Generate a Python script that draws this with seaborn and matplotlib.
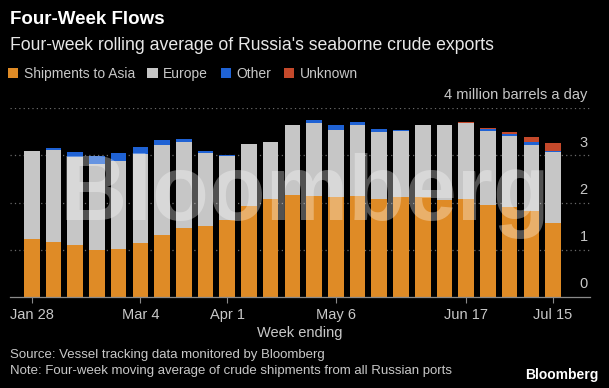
import matplotlib
matplotlib.use("Agg")
import matplotlib.pyplot as plt
import matplotlib.transforms as mtrans
from matplotlib.patches import Patch
import pandas as pd
import seaborn as sns

# ── Data ──────────────────────────────────────────────────────────────────────
weeks = ["Jan 28", "Feb 4", "Feb 11", "Feb 18", "Feb 25", "Mar 4", "Mar 11",
         "Mar 18", "Mar 25", "Apr 1", "Apr 8", "Apr 15", "Apr 22", "Apr 29",
         "May 6", "May 13", "May 20", "May 27", "Jun 3", "Jun 10", "Jun 17",
         "Jun 24", "Jul 1", "Jul 8", "Jul 15"]
asia = [1.23, 1.16, 1.09, 0.99, 1.01, 1.15, 1.31, 1.45, 1.50, 1.64, 1.93, 2.07,
        2.15, 2.13, 2.11, 2.13, 2.07, 2.11, 2.12, 2.06, 2.07, 1.95, 1.90, 1.83, 1.57]
europe = [1.87, 1.96, 1.87, 1.83, 1.87, 1.88, 1.91, 1.84, 1.54, 1.35, 1.31, 1.20,
          1.48, 1.55, 1.42, 1.50, 1.42, 1.40, 1.51, 1.57, 1.62, 1.57, 1.50, 1.38, 1.50]
other = [0.00, 0.03, 0.10, 0.16, 0.17, 0.15, 0.10, 0.06, 0.04, 0.02, 0.00, 0.00,
         0.02, 0.07, 0.10, 0.08, 0.07, 0.02, 0.00, 0.00, 0.00, 0.04, 0.04, 0.06, 0.02]
unknown = [0.00] * 20 + [0.02, 0.02, 0.06, 0.12, 0.17]
tick_weeks = ["Jan 28", "Mar 4", "Apr 1", "May 6", "Jun 17", "Jul 15"]
y_labels = ["0", "1", "2", "3", "4 million barrels a day"]

series = ["Shipments to Asia", "Europe", "Other", "Unknown"]
colors = ["#DF8B26", "#C6C6C6", "#1F62D4", "#C4492B"]

df = pd.DataFrame({"week": weeks, "Shipments to Asia": asia, "Europe": europe,
                   "Other": other, "Unknown": unknown})
cum = df[series].cumsum(axis=1)

# ── Setup ─────────────────────────────────────────────────────────────────────
sns.set_theme(style="white")
plt.rcParams["font.family"] = ["Liberation Sans", "DejaVu Sans"]
BG = "#000000"
fig = plt.figure(figsize=(6.09, 3.88), dpi=100, facecolor=BG)
ax = fig.add_axes([10 / 609, 1 - 297 / 388, 580 / 609, (297 - 108) / 388])
ax.set_facecolor(BG)

# stacked bars: draw cumulative totals from the top layer down
for name, col in reversed(list(zip(series, colors))):
    sns.barplot(x=df["week"], y=cum[name], color=col, saturation=1, width=0.72,
                ax=ax, zorder=3, linewidth=0)

ax.set_xlim(-1.0, 25.7)
ax.set_ylim(0, 4)

# dotted gridlines + right-side labels sitting above them
off = mtrans.offset_copy(ax.transData, fig=fig, x=0, y=4, units="points")
for v, lab in enumerate(y_labels):
    if v > 0:
        ax.axhline(v, color="#6a6a6a", linestyle=(0, (1, 2.5)), linewidth=0.9, zorder=1)
    ax.text(25.6, v, lab, ha="right", va="bottom", color="#C8C8C8",
            fontsize=10.5, transform=off, clip_on=False, zorder=5)

ax.set_yticks([])
ax.set_xticks([weeks.index(w) for w in tick_weeks])
ax.set_xticklabels(tick_weeks, color="#C8C8C8", fontsize=10.5)
ax.tick_params(axis="x", length=4, width=0.8, color="#8a8a8a", pad=4, bottom=True)
ax.set_xlabel("Week ending", color="#C8C8C8", fontsize=10.5, labelpad=3)
ax.set_ylabel("")
for s in ["top", "left", "right"]:
    ax.spines[s].set_visible(False)
ax.spines["bottom"].set_color("#8a8a8a")
ax.spines["bottom"].set_linewidth(0.9)
ax.spines["bottom"].set_zorder(4)

# ── Titles, legend, footer ────────────────────────────────────────────────────
fig.text(10 / 609, 1 - 19 / 388, "Four-Week Flows", color="white", fontsize=13.5,
         fontweight="bold", va="center", ha="left")
fig.text(10 / 609, 1 - 45 / 388,
         "Four-week rolling average of Russia's seaborne crude exports",
         color="#E8E8E8", fontsize=12.7, va="center", ha="left")
handles = [Patch(facecolor=c, edgecolor="none", label=n) for n, c in zip(series, colors)]
leg = fig.legend(handles=handles, loc="center left", bbox_to_anchor=(2 / 609, 1 - 74 / 388),
                 ncol=4, frameon=False, fontsize=10, handlelength=0.75, handleheight=0.75,
                 handletextpad=0.4, columnspacing=0.9, borderaxespad=0)
for t in leg.get_texts():
    t.set_color("#C8C8C8")

fig.text(10 / 609, 1 - 355 / 388, "Source: Vessel tracking data monitored by Bloomberg",
         color="#C8C8C8", fontsize=9.5, va="center", ha="left")
fig.text(10 / 609, 1 - 371 / 388,
         "Note: Four-week moving average of crude shipments from all Russian ports",
         color="#C8C8C8", fontsize=9.5, va="center", ha="left")
fig.text(599 / 609, 1 - 375 / 388, "Bloomberg", color="white", fontsize=10,
         fontweight="bold", va="center", ha="right")

# watermark
fig.text(305 / 609, 1 - 220 / 388, "Bloomberg", color="white", alpha=0.32,
         fontsize=67, fontweight="bold", ha="center", va="baseline", zorder=10)

fig.savefig("out.png", dpi=100, facecolor=BG)
